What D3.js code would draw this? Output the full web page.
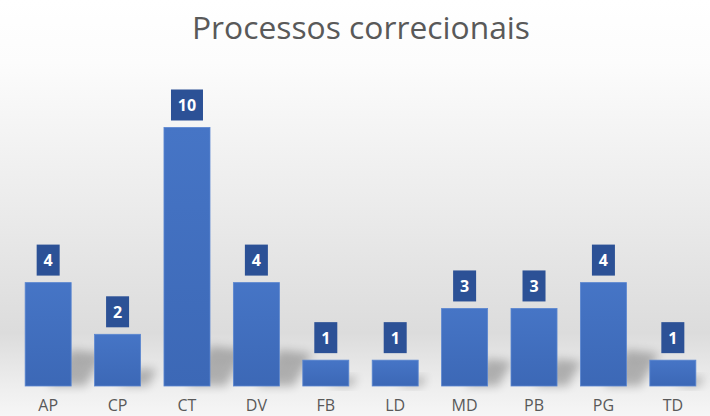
<!DOCTYPE html>
<html>
<head>
<meta charset="utf-8">
<script src="https://cdn.jsdelivr.net/npm/d3@7"></script>
<style>
	html, body { margin: 0; padding: 0; background: #fff; }
	svg { display: block; }
</style>
</head>
<body>
<div id="chart"></div>
<script>
const categories = ["AP", "CP", "CT", "DV", "FB", "LD", "MD", "PB", "PG", "TD"];
const values = [4, 2, 10, 4, 1, 1, 3, 3, 4, 1];
const chartTitle = "Processos correcionais";

const width = 710, height = 416;
const baseline = 386;

const svg = d3.select("#chart")
	.append("svg")
	.attr("width", width)
	.attr("height", height);

const defs = svg.append("defs");

// background: white on top, grey toward the floor, lighter at the labels
const bg = defs.append("linearGradient")
	.attr("id", "bg").attr("x1", 0).attr("y1", 0).attr("x2", 0).attr("y2", 1);
[[0, "#ffffff"], [0.15, "#fcfcfc"], [0.5, "#ebebeb"], [0.8, "#dcdcdc"], [0.93, "#eeeeee"], [1, "#f6f6f6"]]
	.forEach(s => bg.append("stop").attr("offset", s[0]).attr("stop-color", s[1]));

const barGrad = defs.append("linearGradient")
	.attr("id", "barGrad").attr("x1", 0).attr("y1", 0).attr("x2", 0).attr("y2", 1);
[[0, "#4675c6"], [1, "#3c68b6"]]
	.forEach(s => barGrad.append("stop").attr("offset", s[0]).attr("stop-color", s[1]));

defs.append("filter")
	.attr("id", "blur").attr("x", "-50%").attr("y", "-50%").attr("width", "200%").attr("height", "200%")
	.append("feGaussianBlur").attr("stdDeviation", 5);

svg.append("rect")
	.attr("width", width).attr("height", height)
	.attr("fill", "url(#bg)");

const x = d3.scaleBand()
	.domain(categories)
	.range([13.5, 707.5])
	.paddingInner(0.337)
	.paddingOuter(0.168);

const y = d3.scaleLinear()
	.domain([0, 10])
	.range([baseline, baseline - 258.5]);

// soft cast shadows behind the bars
svg.append("g").attr("class", "shadows")
	.selectAll("path")
	.data(categories)
	.enter()
	.append("path")
	.attr("filter", "url(#blur)")
	.attr("fill", "#000")
	.attr("opacity", 0.25)
	.attr("d", (d, i) => {
		const x0 = x(d) + x.bandwidth() * 0.5, x1 = x(d) + x.bandwidth();
		const h = Math.min((baseline - y(values[i])) * 0.35, 40);
		return "M" + x0 + "," + baseline + " L" + x1 + "," + (baseline - h)
			+ " L" + (x1 + h * 0.9) + "," + (baseline - h * 0.9) + " L" + (x1 + h * 0.4) + "," + baseline + " Z";
	});

svg.append("g").attr("class", "bars")
	.selectAll("rect")
	.data(categories)
	.enter()
	.append("rect")
	.attr("x", d => x(d))
	.attr("y", (d, i) => y(values[i]))
	.attr("width", x.bandwidth())
	.attr("height", (d, i) => baseline - y(values[i]))
	.attr("fill", "url(#barGrad)")
	.attr("stroke", "#5a86d0")
	.attr("stroke-width", 0.8);

// value labels in dark boxes
const labels = svg.append("g").attr("class", "labels")
	.selectAll("g")
	.data(categories)
	.enter()
	.append("g")
	.attr("transform", (d, i) => "translate(" + (x(d) + x.bandwidth() / 2) + "," + (y(values[i]) - 7) + ")");

labels.append("rect")
	.attr("x", (d, i) => String(values[i]).length > 1 ? -16 : -11.5)
	.attr("y", -31)
	.attr("width", (d, i) => String(values[i]).length > 1 ? 32 : 23)
	.attr("height", 31)
	.attr("fill", "#2c5196");

labels.append("text")
	.attr("text-anchor", "middle")
	.attr("y", -9.5)
	.attr("fill", "#ffffff")
	.attr("font-family", "'Open Sans', sans-serif")
	.attr("font-weight", "bold")
	.attr("font-size", 16)
	.text((d, i) => values[i]);

// category axis
const xAxis = svg.append("g")
	.attr("transform", "translate(0," + baseline + ")")
	.call(d3.axisBottom(x).tickSize(0).tickPadding(13.5));
xAxis.select(".domain").remove();
xAxis.selectAll("text")
	.attr("fill", "#595959")
	.attr("font-family", "'Open Sans', sans-serif")
	.attr("font-size", 16);

svg.append("text")
	.attr("x", 361)
	.attr("y", 39)
	.attr("text-anchor", "middle")
	.attr("fill", "#595959")
	.attr("font-family", "'Open Sans', sans-serif")
	.attr("font-size", 31)
	.attr("textLength", 338)
	.attr("lengthAdjust", "spacingAndGlyphs")
	.text(chartTitle);
</script>
</body>
</html>
